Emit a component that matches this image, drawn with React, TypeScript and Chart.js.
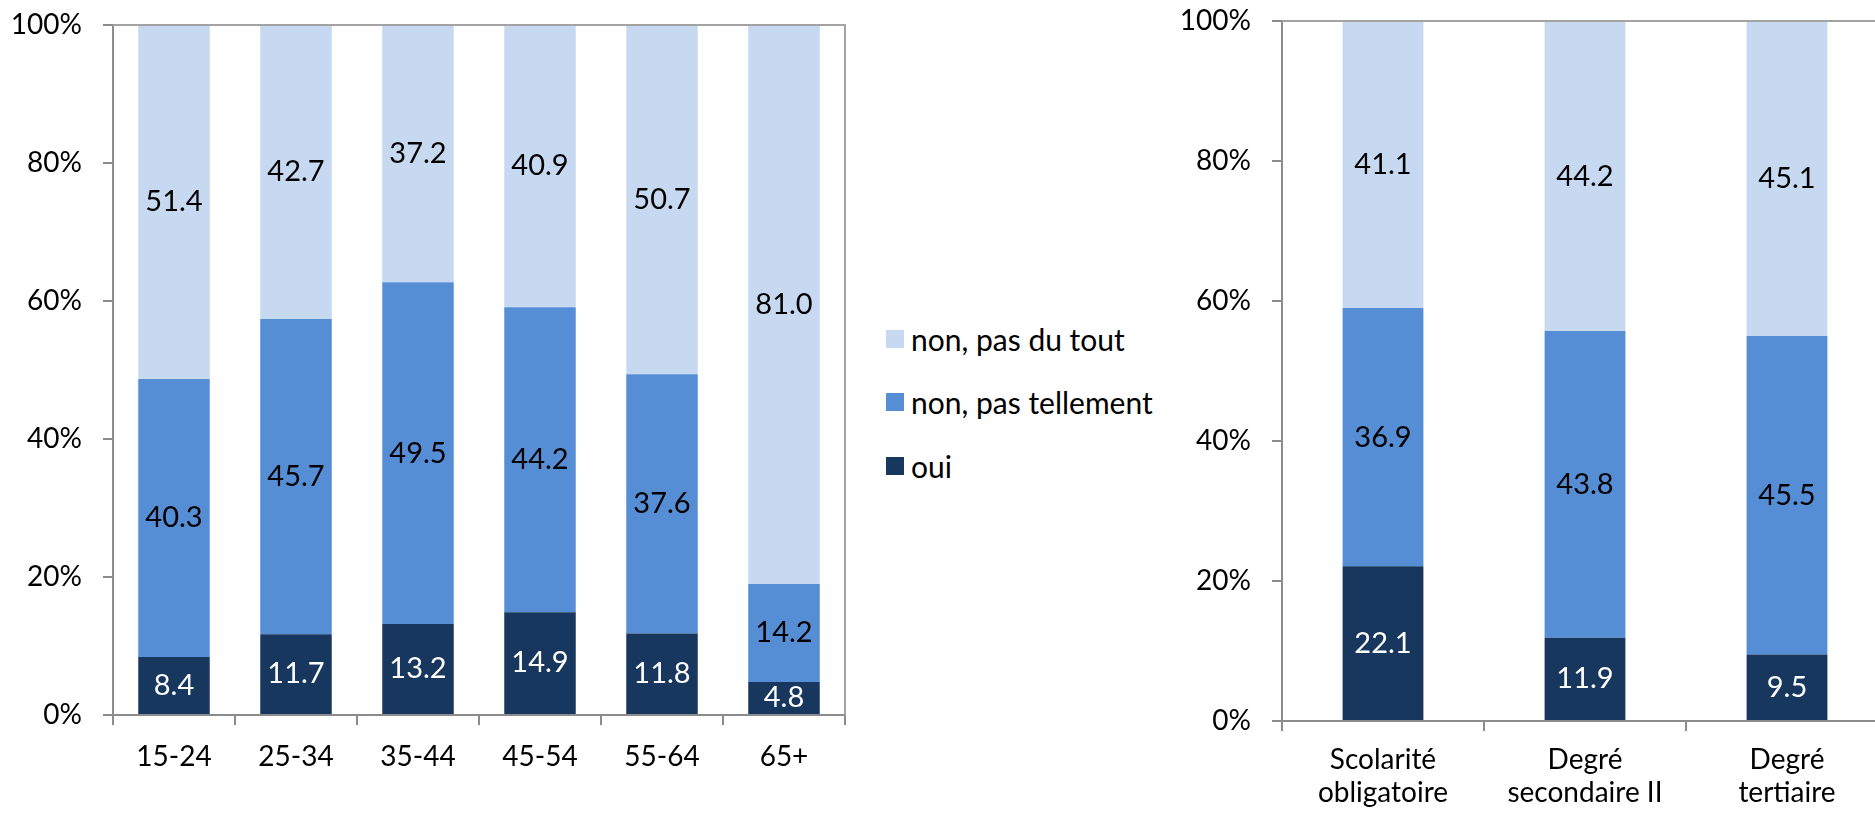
import React, { useEffect, useRef } from 'react';
import { Chart, registerables } from 'chart.js';

Chart.register(...registerables);

// ---- data ----
const ageCategories = ['15-24', '25-34', '35-44', '45-54', '55-64', '65+'];
const ageOui = [8.4, 11.7, 13.2, 14.9, 11.8, 4.8];
const ageTellement = [40.3, 45.7, 49.5, 44.2, 37.6, 14.2];
const agePasDuTout = [51.4, 42.7, 37.2, 40.9, 50.7, 81.0];

const eduCategories = [
  ['Scolarité', 'obligatoire'],
  ['Degré', 'secondaire II'],
  ['Degré', 'tertiaire'],
];
const eduOui = [22.1, 11.9, 9.5];
const eduTellement = [36.9, 43.8, 45.5];
const eduPasDuTout = [41.1, 44.2, 45.1];

const yTicks = [0, 20, 40, 60, 80, 100];
const seriesLabels = ['oui', 'non, pas tellement', 'non, pas du tout'];
const seriesColors = ['#17375E', '#558ED5', '#C6D9F1'];
const valueLabelColors = ['#FFFFFF', '#000000', '#000000'];

const FONT = 'Lato, "Open Sans", sans-serif';
const AXIS = '#8c8c8c';
const FRAME = '#a3a3a3';

const valueLabels = {
  id: 'valueLabels',
  afterDatasetsDraw(chart: any) {
    const ctx = chart.ctx;
    ctx.save();
    ctx.font = `29px ${FONT}`;
    ctx.textAlign = 'center';
    ctx.textBaseline = 'middle';
    chart.data.datasets.forEach((ds: any, di: number) => {
      const meta = chart.getDatasetMeta(di);
      meta.data.forEach((el: any, i: number) => {
        const v = ds.data[i];
        const p = el.getProps(['x', 'y', 'base'], true);
        ctx.fillStyle = valueLabelColors[di];
        ctx.fillText(Number(v).toFixed(1), p.x, (p.y + p.base) / 2);
      });
    });
    ctx.restore();
  },
};

const frame = {
  id: 'frame',
  afterDraw(chart: any, _args: any, opts: any) {
    const { left, right, top, bottom } = chart.chartArea;
    const ctx = chart.ctx;
    ctx.save();
    ctx.strokeStyle = FRAME;
    ctx.lineWidth = 2;
    ctx.beginPath();
    ctx.moveTo(left, top);
    ctx.lineTo(right, top);
    if (opts && opts.right) ctx.lineTo(right, bottom);
    ctx.stroke();
    ctx.restore();
  },
};

function makeConfig(
  categories: any[],
  series: number[][],
  barPct: number,
  yWidth: number,
  xHeight: number,
  padTop: number,
  padRight: number,
  frameRight: boolean,
  xPad: number
): any {
  return {
    type: 'bar',
    data: {
      labels: categories,
      datasets: series.map((d, i) => ({
        label: seriesLabels[i],
        data: d,
        backgroundColor: seriesColors[i],
        borderWidth: 0,
        barPercentage: barPct,
        categoryPercentage: 1,
      })),
    },
    options: {
      responsive: false,
      animation: false,
      layout: { padding: { top: padTop, right: padRight, left: 0, bottom: 0 } },
      plugins: {
        legend: { display: false },
        tooltip: { enabled: false },
        frame: { right: frameRight },
      },
      scales: {
        x: {
          stacked: true,
          grid: {
            display: true,
            drawOnChartArea: false,
            drawTicks: true,
            tickLength: 10,
            offset: true,
            color: AXIS,
            lineWidth: 2,
          },
          border: { display: true, color: AXIS, width: 2 },
          ticks: {
            color: '#000',
            font: { family: FONT, size: 28, lineHeight: 1.18 },
            padding: xPad,
            maxRotation: 0,
            autoSkip: false,
          },
          afterFit: (s: any) => {
            s.height = xHeight;
            s.paddingLeft = 0;
            s.paddingRight = 0;
          },
        },
        y: {
          stacked: true,
          min: 0,
          max: 100,
          afterBuildTicks: (s: any) => {
            s.ticks = yTicks.map((v) => ({ value: v }));
          },
          grid: {
            display: true,
            drawOnChartArea: false,
            drawTicks: true,
            tickLength: 10,
            color: AXIS,
            lineWidth: 2,
          },
          border: { display: true, color: AXIS, width: 2 },
          ticks: {
            color: '#000',
            font: { family: FONT, size: 28 },
            padding: 21,
            callback: (v: any) => `${v}%`,
          },
          afterFit: (s: any) => {
            s.width = yWidth;
            s.paddingTop = 0;
            s.paddingBottom = 0;
          },
        },
      },
    },
    plugins: [valueLabels, frame],
  };
}

export default function App() {
  const leftRef = useRef<HTMLCanvasElement>(null);
  const rightRef = useRef<HTMLCanvasElement>(null);

  useEffect(() => {
    const left = new Chart(
      leftRef.current as HTMLCanvasElement,
      makeConfig(ageCategories, [ageOui, ageTellement, agePasDuTout], 0.586, 113, 103, 25, 25, true, 15)
    );
    const right = new Chart(
      rightRef.current as HTMLCanvasElement,
      makeConfig(eduCategories, [eduOui, eduTellement, eduPasDuTout], 0.4, 132, 97, 21, 22, false, 12)
    );
    return () => {
      left.destroy();
      right.destroy();
    };
  }, []);

  const legendItems = [2, 1, 0];
  const legendCenters = [339, 402, 466];

  return (
    <div
      style={{
        position: 'fixed',
        left: 0,
        top: 0,
        width: 1875,
        height: 818,
        overflow: 'hidden',
        background: '#fff',
      }}
    >
      <canvas ref={leftRef} width={870} height={818} style={{ position: 'absolute', left: 0, top: 0 }} />
      {legendItems.map((si, k) => (
        <div
          key={si}
          style={{
            position: 'absolute',
            left: 886,
            top: legendCenters[k] - 20,
            height: 40,
            display: 'flex',
            alignItems: 'center',
            fontFamily: FONT,
            fontSize: 30,
            lineHeight: 1,
            color: '#000',
            whiteSpace: 'nowrap',
          }}
        >
          <span
            style={{
              display: 'inline-block',
              width: 18,
              height: 18,
              background: seriesColors[si],
              marginRight: 7,
            }}
          />
          <span>{seriesLabels[si]}</span>
        </div>
      ))}
      <canvas ref={rightRef} width={760} height={818} style={{ position: 'absolute', left: 1150, top: 0 }} />
    </div>
  );
}
